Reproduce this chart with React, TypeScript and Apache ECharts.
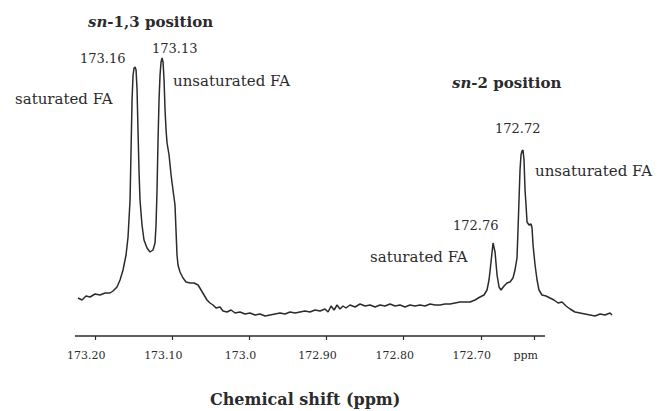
import React, { useEffect, useRef } from "react";
import * as echarts from "echarts";

// chemical shift (ppm) of each sampled point of the trace
const shiftPpm = [
  173.2224, 173.2172, 173.212, 173.2068, 173.2003, 173.1938, 173.1874, 173.1809, 173.177, 173.1718,
  173.1679, 173.164, 173.1601, 173.1575, 173.1549, 173.1536, 173.1523, 173.151, 173.1497, 173.1484,
  173.1471, 173.1458, 173.1446, 173.1433, 173.142, 173.1394, 173.1368, 173.1329, 173.129, 173.1251,
  173.1225, 173.1212, 173.1199, 173.1186, 173.1173, 173.116, 173.1147, 173.1134, 173.1121, 173.1108,
  173.1095, 173.1082, 173.1069, 173.1043, 173.1017, 173.0992, 173.0966, 173.0953, 173.094, 173.0927,
  173.0901, 173.0862, 173.0823, 173.0771, 173.0719, 173.0667, 173.0628, 173.0589, 173.0551, 173.0512,
  173.0473, 173.0434, 173.0382, 173.0343, 173.0291, 173.0239, 173.0187, 173.0123, 173.0058, 172.9993,
  172.9928, 172.9863, 172.9798, 172.9733, 172.9669, 172.9604, 172.9539, 172.9474, 172.9409, 172.9344,
  172.928, 172.9215, 172.915, 172.9085, 172.902, 172.8981, 172.8942, 172.8903, 172.8864, 172.8826,
  172.8787, 172.8748, 172.8696, 172.8631, 172.8566, 172.8501, 172.8436, 172.8372, 172.8307, 172.8242,
  172.8177, 172.8112, 172.8047, 172.7983, 172.7918, 172.7853, 172.7788, 172.7723, 172.7658, 172.7593,
  172.7529, 172.7464, 172.7399, 172.7334, 172.7269, 172.7204, 172.7139, 172.7075, 172.701, 172.6958,
  172.6919, 172.6893, 172.6867, 172.6841, 172.6815, 172.6789, 172.6763, 172.6737, 172.6698, 172.666,
  172.6621, 172.6582, 172.6556, 172.653, 172.6517, 172.6504, 172.6491, 172.6478, 172.6465, 172.6452,
  172.6439, 172.6426, 172.6413, 172.64, 172.6374, 172.6348, 172.6335, 172.6322, 172.6296, 172.627,
  172.6245, 172.6206, 172.6154, 172.6102, 172.605, 172.5998, 172.5946, 172.5894, 172.5842, 172.5778,
  172.5713, 172.5648, 172.5583, 172.5518, 172.5453, 172.5389, 172.5324, 172.5298,
];

// signal intensity (arbitrary units) at each point
const intensity = [
  38, 36, 40, 39, 42, 41, 43, 43, 45, 49,
  56, 66, 81, 99, 136, 186, 236, 261, 268, 269,
  266, 246, 206, 166, 136, 111, 96, 88, 84, 86,
  93, 111, 146, 196, 236, 261, 274, 278, 274, 256,
  226, 206, 193, 181, 161, 146, 131, 106, 81, 71,
  64, 58, 54, 53, 53, 51, 46, 41, 36, 33,
  31, 28, 29, 25, 24, 26, 23, 24, 22, 23,
  21, 22, 20, 21, 22, 23, 22, 24, 23, 24,
  25, 24, 26, 25, 27, 24, 30, 26, 31, 27,
  30, 28, 31, 29, 32, 30, 31, 29, 31, 30,
  32, 30, 31, 29, 31, 30, 31, 30, 32, 31,
  31, 32, 32, 33, 34, 34, 34, 36, 39, 41,
  46, 56, 74, 93, 84, 61, 49, 46, 50, 53,
  54, 58, 66, 78, 106, 136, 166, 181, 185, 186,
  176, 146, 131, 114, 111, 112, 108, 91, 71, 56,
  46, 41, 40, 38, 36, 33, 34, 30, 27, 24,
  23, 22, 21, 20, 22, 21, 23, 21,
];

// axis ticks and their labels
const tickValues = [173.2, 173.1, 173.0, 172.9, 172.8, 172.7, 172.63];
const tickLabels = ["173.20", "173.10", "173.0", "172.90", "172.80", "172.70", "ppm"];

// extent of the drawn axis line
const axisLineFrom = 173.2263;
const axisLineTo = 172.6167;

const SERIF = "'DejaVu Serif', 'Liberation Serif', serif";
const INK = "#2b2b2b";

export default function App() {
  const ref = useRef<HTMLDivElement>(null);

  useEffect(() => {
    if (!ref.current) return;
    const chart = echarts.init(ref.current, undefined, { renderer: "svg" });
    const data = shiftPpm.map((x, i) => [x, intensity[i]]);

    const label = (text: string, x: number, y: number, size: number, bold = false) => ({
      type: "text",
      left: x,
      top: y - size * 0.6,
      style: {
        text,
        fill: INK,
        font: `${bold ? "bold " : ""}${size}px ${SERIF}`,
      },
    });

    const richTitle = (rest: string, x: number, y: number) => ({
      type: "text",
      left: x,
      top: y - 9,
      style: {
        text: `{i|sn}{b|${rest}}`,
        rich: {
          i: { fontFamily: SERIF, fontSize: 15, fontWeight: "bold", fontStyle: "italic", fill: INK, color: INK },
          b: { fontFamily: SERIF, fontSize: 15, fontWeight: "bold", fill: INK, color: INK },
        },
      },
    });

    chart.setOption({
      animation: false,
      backgroundColor: "#ffffff",
      grid: { left: 75, right: 48, top: 36, bottom: 75, containLabel: false },
      xAxis: {
        type: "value",
        inverse: true,
        min: 172.5259,
        max: 173.2263,
        axisLine: { show: false },
        splitLine: { show: false },
        axisTick: {
          show: true,
          customValues: tickValues,
          length: 4,
          lineStyle: { color: INK, width: 1.2 },
        },
        axisLabel: {
          show: true,
          customValues: tickValues,
          margin: 14,
          padding: [0, 18, 0, 0],
          color: INK,
          fontFamily: SERIF,
          fontSize: 11,
          formatter: (v: number) => {
            const idx = tickValues.findIndex((t) => Math.abs(t - v) < 1e-6);
            return idx >= 0 ? tickLabels[idx] : "";
          },
        },
      },
      yAxis: { type: "value", min: 0, max: 300, show: false },
      series: [
        {
          type: "line",
          data,
          showSymbol: false,
          symbol: "none",
          lineStyle: { color: INK, width: 1.5 },
          markLine: {
            silent: true,
            symbol: ["none", "none"],
            label: { show: false },
            lineStyle: { color: INK, width: 1.5, type: "solid" },
            data: [[{ coord: [axisLineFrom, 0] }, { coord: [axisLineTo, 0] }]],
          },
        },
      ],
      graphic: [
        richTitle("-1,3 position", 88, 23),
        label("173.16", 80, 60, 13),
        label("173.13", 152, 50, 13),
        label("saturated FA", 15, 100, 15),
        label("unsaturated FA", 173, 82, 15),
        richTitle("-2 position", 452, 84),
        label("172.72", 495, 130, 13),
        label("unsaturated FA", 535, 172, 15),
        label("172.76", 453, 227, 13),
        label("saturated FA", 370, 258, 15),
        {
          type: "text",
          left: 210,
          top: 391,
          style: { text: "Chemical shift (ppm)", fill: INK, font: `bold 16px ${SERIF}` },
        },
      ],
    });

    return () => chart.dispose();
  }, []);

  return (
    <div
      ref={ref}
      style={{ position: "absolute", left: 0, top: 0, width: 663, height: 411 }}
    />
  );
}
